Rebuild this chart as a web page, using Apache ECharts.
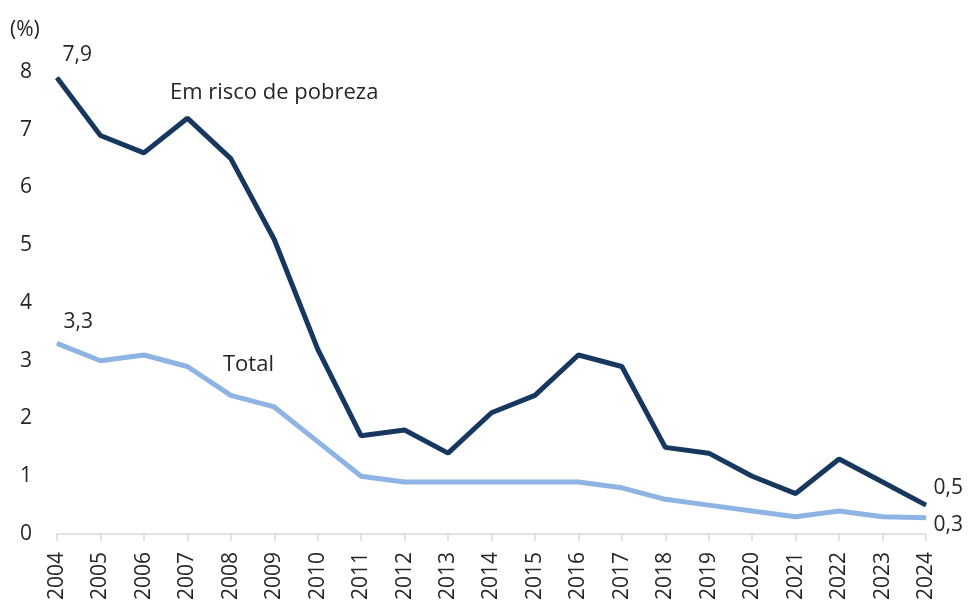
<!DOCTYPE html>
<html><head><meta charset="utf-8">
<script src="https://cdn.jsdelivr.net/npm/echarts@6/dist/echarts.min.js"></script>
<style>html,body{margin:0;padding:0;background:#fff}#c{width:968px;height:604px}</style>
</head><body><div id="c"></div>
<script>
const years = ['2004','2005','2006','2007','2008','2009','2010','2011','2012','2013','2014','2015','2016','2017','2018','2019','2020','2021','2022','2023','2024'];
const emRisco = [7.9,6.9,6.6,7.2,6.5,5.1,3.2,1.7,1.8,1.4,2.1,2.4,3.1,2.9,1.5,1.4,1.0,0.7,1.3,0.9,0.5];
const total = [3.3,3.0,3.1,2.9,2.4,2.2,1.6,1.0,0.9,0.9,0.9,0.9,0.9,0.8,0.6,0.5,0.4,0.3,0.4,0.3,0.28];
const yTicks = [0,1,2,3,4,5,6,7,8];
const seriesNames = ['Em risco de pobreza','Total'];

const FONT = '"Open Sans"';
const TXT = '#262626';
const fmt = v => v.toFixed(1).replace('.', ',');

function mk(arr, firstOff, lastOff) {
  return arr.map((v, i) => {
    const d = {value: v};
    if (i === 0 || i === arr.length - 1) {
      d.label = {show: true, position: 'right', distance: 5, offset: i === 0 ? firstOff : lastOff,
        formatter: p => fmt(p.value), color: TXT, fontSize: 21, fontFamily: FONT};
    }
    return d;
  });
}

const chart = echarts.init(document.getElementById('c'));
chart.setOption({
  animation: false,
  grid: {left: 57, right: 42, top: 72, bottom: 70},
  xAxis: {
    type: 'category', data: years, boundaryGap: false,
    axisLine: {lineStyle: {color: '#d9d9d9', width: 1.5}},
    axisTick: {show: true, length: 7, lineStyle: {color: '#d9d9d9', width: 1.5}},
    axisLabel: {rotate: 90, margin: 18, color: TXT, fontSize: 21, fontFamily: FONT, interval: 0}
  },
  yAxis: {
    type: 'value', min: 0, max: 8, interval: 1,
    axisLine: {show: false}, axisTick: {show: false}, splitLine: {show: false},
    axisLabel: {margin: 25, color: TXT, fontSize: 21, fontFamily: FONT,
      formatter: v => yTicks.includes(v) ? String(v) : ''}
  },
  graphic: [
    {type: 'text', x: 10, y: 30, style: {text: '(%)', fill: TXT, font: '21px ' + FONT, verticalAlign: 'middle'}},
    {type: 'text', x: 170, y: 93, style: {text: seriesNames[0], fill: TXT, font: '22px ' + FONT, verticalAlign: 'middle'}},
    {type: 'text', x: 223, y: 365, style: {text: seriesNames[1], fill: TXT, font: '22px ' + FONT, verticalAlign: 'middle'}}
  ],
  series: [
    {name: seriesNames[0], type: 'line', data: mk(emRisco, [0, -23], [2, -17]),
     symbol: 'circle', symbolSize: 1, showSymbol: true,
     lineStyle: {color: '#17375e', width: 5}, itemStyle: {color: '#17375e'}, z: 3},
    {name: seriesNames[1], type: 'line', data: mk(total, [1, -21], [2, 7]),
     symbol: 'circle', symbolSize: 1, showSymbol: true,
     lineStyle: {color: '#8db4e2', width: 5}, itemStyle: {color: '#8db4e2'}, z: 2}
  ]
});
</script></body></html>
